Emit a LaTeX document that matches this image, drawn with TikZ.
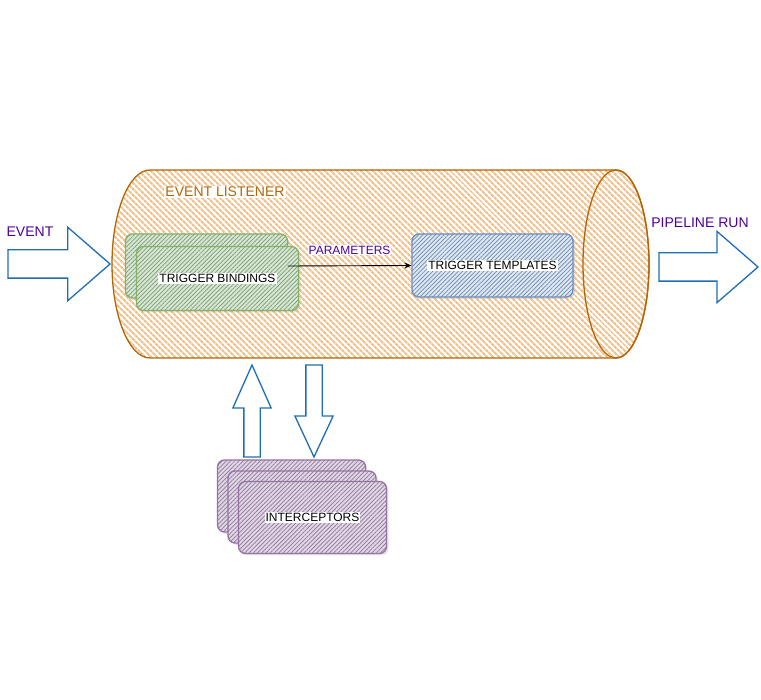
\documentclass[tikz,border=0pt]{standalone}
\usepackage{fontspec}
\setmainfont{Liberation Sans}
\usetikzlibrary{shapes.arrows,patterns.meta,arrows.meta,shadows}
\definecolor{lsnorange}{HTML}{B46504}
\definecolor{lsnhatch}{HTML}{F2C391}
\definecolor{bindgreen}{HTML}{82B366}
\definecolor{bindfill}{HTML}{D5E8D4}
\definecolor{tmplblue}{HTML}{6C8EBF}
\definecolor{tmplfill}{HTML}{DAE8FC}
\definecolor{icptpurple}{HTML}{9673A6}
\definecolor{icptfill}{HTML}{E1D5E7}
\definecolor{flowblue}{HTML}{1F6EB4}
\definecolor{lbltext}{HTML}{4C0099}
\newcommand{\txtbg}[1]{{\fboxsep=1pt\colorbox{white}{#1}}}
\begin{document}
\begin{tikzpicture}[x=1pt, y=-1pt,
    box/.style={rectangle, rounded corners=7pt, line width=1.3pt, inner sep=0pt,
      font=\fontsize{12}{14}\selectfont,
      drop shadow={opacity=0.2, shadow xshift=2pt, shadow yshift=-2pt},
      pattern={Lines[angle=45, distance=3pt, line width=0.7pt]}},
    bindbox/.style={box, draw=bindgreen, preaction={fill=bindfill},
      pattern color=bindgreen!45!gray, minimum width=162pt, minimum height=64pt},
    tmplbox/.style={box, draw=tmplblue, preaction={fill=tmplfill},
      pattern color=tmplblue!40!gray, minimum width=161pt, minimum height=63pt},
    icptbox/.style={box, draw=icptpurple, preaction={fill=icptfill},
      pattern color=icptpurple!45!gray, minimum width=148pt, minimum height=72pt},
    bigarrow/.style={single arrow, draw=flowblue, line width=1.3pt, fill=white,
      inner xsep=0pt, outer sep=0pt, anchor=tail},
    lbl/.style={font=\fontsize{14}{16}\selectfont, text=lbltext},
    paramlbl/.style={font=\fontsize{12}{14}\selectfont, text=lbltext, fill=white, inner sep=1pt}]
  \useasboundingbox (0,0) rectangle (761,700);
  \coordinate (listener) at (383,264);
  \draw[lsnorange, line width=1.3pt, preaction={fill=white},
    pattern={Lines[angle=-45, distance=4pt, line width=2.2pt]}, pattern color=lsnhatch]
    (150,170) -- (616,170) arc[start angle=-90, end angle=90, x radius=33, y radius=94]
    -- (150,358) arc[start angle=90, end angle=270, x radius=38, y radius=94] -- cycle;
  \draw[lsnorange, line width=1.3pt] (616,264) ellipse[x radius=33, y radius=94];
  \node[font=\fontsize{14}{16}\selectfont, text=lsnorange, fill=white, inner sep=1pt]
    (listenerlbl) at (225,192) {EVENT LISTENER};
  \node[bindbox] (tbback) at (206.5,266) {};
  \node[bindbox] (tb) at (217.5,278.5) {\txtbg{TRIGGER BINDINGS}};
  \node[tmplbox] (tt) at (492.5,265.5) {\txtbg{TRIGGER TEMPLATES}};
  \draw[-{Stealth[length=7pt, width=6pt]}, line width=0.9pt] (tbback.east) -- (tt.west)
    node[paramlbl, midway, above=10pt] {PARAMETERS};
  \node[bigarrow, inner ysep=13.5pt, minimum height=102pt,
    single arrow head extend=22.5pt, single arrow tip angle=82] (evarrow) at (8,264) {};
  \node[lbl] (eventlbl) at (30,232) {EVENT};
  \node[bigarrow, inner ysep=13.5pt, minimum height=99pt,
    single arrow head extend=21.5pt, single arrow tip angle=82] (runarrow) at (659,267) {};
  \node[lbl] (runlbl) at (700,223) {PIPELINE RUN};
  \node[icptbox] (icpt1) at (291.5,496) {};
  \node[icptbox] (icpt2) at (302,507) {};
  \node[icptbox] (icpt3) at (312.5,517.5) {\txtbg{INTERCEPTORS}};
  \node[bigarrow, rotate=90, inner ysep=7.5pt, minimum height=92pt,
    single arrow head extend=11pt, single arrow tip angle=48] (uparrow) at (252,457) {};
  \node[bigarrow, rotate=-90, inner ysep=7.5pt, minimum height=92pt,
    single arrow head extend=11pt, single arrow tip angle=50] (downarrow) at (314,365) {};
\end{tikzpicture}
\end{document}
